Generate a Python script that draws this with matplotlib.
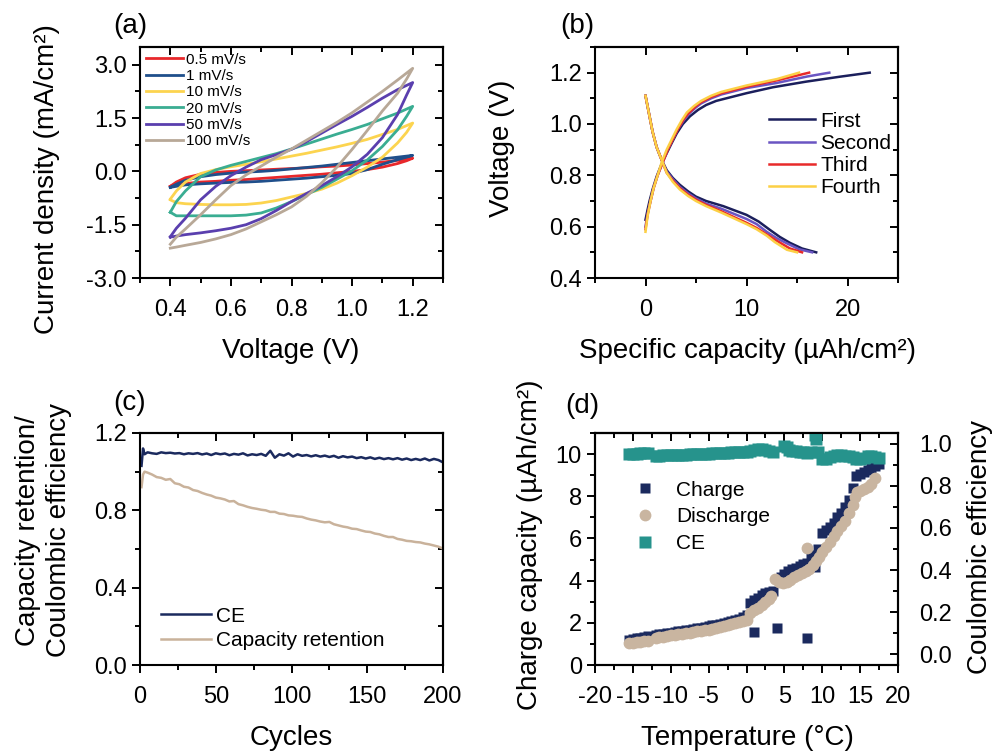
import matplotlib
matplotlib.use("Agg")
import matplotlib.pyplot as plt
from matplotlib.ticker import MultipleLocator, FormatStrFormatter

plt.rcParams["font.family"] = ["Liberation Sans", "DejaVu Sans"]
plt.rcParams["axes.unicode_minus"] = False
plt.rcParams["axes.linewidth"] = 1.5

# ---------------- (a) cyclic voltammetry loops ----------------
V_FWD = [0.40, 0.42, 0.45, 0.50, 0.55, 0.60, 0.65, 0.70, 0.75, 0.80, 0.85, 0.90,
         0.95, 1.00, 1.05, 1.10, 1.15, 1.20]
V_REV = [1.20, 1.18, 1.15, 1.10, 1.05, 1.00, 0.95, 0.90, 0.85, 0.80, 0.75, 0.70,
         0.65, 0.60, 0.55, 0.50, 0.45, 0.42, 0.40]

I_FWD_05 = [-0.42, -0.30, -0.18, -0.08, -0.03, 0.00, 0.02, 0.04, 0.06, 0.08, 0.10, 0.13,
            0.15, 0.18, 0.22, 0.26, 0.31, 0.37]
I_REV_05 = [0.37, 0.30, 0.22, 0.12, 0.05, 0.00, -0.04, -0.08, -0.11, -0.14, -0.17, -0.20,
            -0.23, -0.25, -0.28, -0.30, -0.34, -0.38, -0.42]
I_FWD_1 = [-0.45, -0.36, -0.25, -0.15, -0.09, -0.05, -0.02, 0.00, 0.03, 0.07, 0.11, 0.15,
           0.20, 0.25, 0.30, 0.35, 0.40, 0.45]
I_REV_1 = [0.45, 0.40, 0.33, 0.20, 0.05, -0.06, -0.11, -0.15, -0.19, -0.22, -0.25, -0.28,
           -0.30, -0.31, -0.33, -0.35, -0.38, -0.42, -0.45]
I_FWD_10 = [-0.78, -0.55, -0.30, -0.06, 0.05, 0.13, 0.20, 0.27, 0.35, 0.43, 0.51, 0.60,
            0.69, 0.79, 0.90, 1.04, 1.18, 1.36]
I_REV_10 = [1.36, 1.10, 0.80, 0.40, 0.12, -0.12, -0.33, -0.50, -0.62, -0.72, -0.82, -0.89,
            -0.93, -0.94, -0.94, -0.93, -0.91, -0.88, -0.80]
I_FWD_20 = [-1.15, -0.85, -0.55, -0.15, 0.04, 0.17, 0.28, 0.39, 0.50, 0.63, 0.77, 0.91,
            1.05, 1.18, 1.32, 1.48, 1.64, 1.83]
I_REV_20 = [1.83, 1.55, 1.17, 0.70, 0.32, 0.02, -0.22, -0.45, -0.65, -0.85, -1.03, -1.17,
            -1.23, -1.25, -1.25, -1.25, -1.25, -1.25, -1.15]
I_FWD_50 = [-1.84, -1.60, -1.32, -0.80, -0.42, -0.12, 0.12, 0.33, 0.47, 0.62, 0.84, 1.08,
            1.32, 1.55, 1.80, 2.06, 2.30, 2.50]
I_REV_50 = [2.50, 2.15, 1.60, 0.95, 0.48, 0.13, -0.15, -0.40, -0.62, -0.85, -1.10, -1.33,
            -1.50, -1.60, -1.67, -1.73, -1.78, -1.82, -1.85]
I_FWD_100 = [-2.05, -1.85, -1.62, -1.22, -0.80, -0.40, -0.10, 0.15, 0.40, 0.63, 0.88, 1.13,
             1.38, 1.65, 1.95, 2.25, 2.57, 2.90]
I_REV_100 = [2.90, 2.60, 2.20, 1.70, 1.15, 0.62, 0.12, -0.32, -0.70, -1.00, -1.22, -1.42,
             -1.62, -1.78, -1.90, -2.00, -2.08, -2.13, -2.16]

CV_LABELS = ["0.5 mV/s", "1 mV/s", "10 mV/s", "20 mV/s", "50 mV/s", "100 mV/s"]
CV_COLORS = ["#e8282b", "#1f4f8b", "#fcd44f", "#3aad92", "#5a3fae", "#b8a897"]

# ---------------- (b) charge / discharge curves ----------------
CH1_Q = [0, 0.2, 0.4, 0.7, 1.1, 1.6, 2.1, 2.6, 3.1, 3.7, 4.4, 5.2, 6.0, 7.0, 8.0, 10.0, 12.6, 15.9, 19.2, 22.2]
CH1_V = [0.627, 0.665, 0.70, 0.745, 0.795, 0.845, 0.886, 0.926, 0.964, 1.0, 1.03, 1.055, 1.074, 1.09, 1.10, 1.12, 1.143, 1.165, 1.184, 1.2]
CH2_Q = [0, 0.2, 0.5, 0.8, 1.2, 1.7, 2.2, 2.7, 3.2, 3.8, 4.3, 5.0, 5.5, 6.5, 7.5, 10.0, 13.0, 16.0, 18.2]
CH2_V = [0.60, 0.65, 0.70, 0.75, 0.80, 0.85, 0.90, 0.94, 0.98, 1.015, 1.04, 1.065, 1.08, 1.10, 1.115, 1.14, 1.16, 1.185, 1.2]
CH3_Q = [0, 0.2, 0.5, 0.8, 1.2, 1.7, 2.2, 2.7, 3.2, 3.8, 4.2, 5.0, 5.5, 6.5, 7.5, 10.0, 13.0, 16.2]
CH3_V = [0.59, 0.645, 0.70, 0.75, 0.80, 0.85, 0.90, 0.94, 0.98, 1.02, 1.04, 1.07, 1.085, 1.105, 1.12, 1.145, 1.17, 1.2]
CH4_Q = [0, 0.2, 0.5, 0.8, 1.2, 1.6, 2.1, 2.6, 3.1, 3.6, 4.1, 4.8, 5.5, 6.5, 7.5, 10.0, 13.0, 15.2]
CH4_V = [0.58, 0.64, 0.70, 0.75, 0.80, 0.85, 0.90, 0.94, 0.98, 1.015, 1.045, 1.07, 1.09, 1.11, 1.125, 1.15, 1.175, 1.2]

DC1_Q = [0, 0.2, 0.4, 0.7, 1.1, 1.6, 2.1, 2.7, 3.4, 4.2, 5.0, 6.0, 7.7, 10.0, 11.2, 12.3, 13.3, 14.3, 15.5, 16.9]
DC1_V = [1.11, 1.07, 1.03, 0.97, 0.91, 0.86, 0.82, 0.79, 0.763, 0.738, 0.717, 0.70, 0.68, 0.646, 0.62, 0.588, 0.56, 0.537, 0.515, 0.5]
DC2_Q = [0, 0.2, 0.4, 0.7, 1.1, 1.6, 2.1, 2.7, 3.4, 4.2, 5.0, 6.0, 7.5, 10.0, 11.0, 12.0, 13.0, 14.0, 15.2, 16.5]
DC2_V = [1.11, 1.07, 1.03, 0.97, 0.91, 0.86, 0.815, 0.785, 0.755, 0.73, 0.71, 0.69, 0.67, 0.63, 0.61, 0.58, 0.555, 0.535, 0.512, 0.5]
DC3_Q = [0, 0.2, 0.4, 0.7, 1.1, 1.6, 2.1, 2.7, 3.4, 4.2, 5.0, 6.0, 7.5, 10.0, 11.0, 12.0, 13.0, 14.3, 15.5]
DC3_V = [1.11, 1.07, 1.03, 0.97, 0.91, 0.86, 0.81, 0.78, 0.75, 0.725, 0.705, 0.685, 0.66, 0.615, 0.595, 0.57, 0.545, 0.515, 0.5]
DC4_Q = [0, 0.2, 0.4, 0.7, 1.1, 1.6, 2.1, 2.7, 3.4, 4.2, 5.0, 6.0, 7.5, 10.0, 11.0, 12.0, 12.8, 14.0, 15.0]
DC4_V = [1.11, 1.07, 1.03, 0.97, 0.91, 0.86, 0.81, 0.775, 0.745, 0.72, 0.70, 0.68, 0.655, 0.61, 0.59, 0.565, 0.54, 0.51, 0.5]

GCD_LABELS = ["First", "Second", "Third", "Fourth"]
GCD_COLORS = ["#1b1f5c", "#6a55c2", "#e82a2a", "#fcd045"]

# ---------------- (c) cycling ----------------
CYCLES = [1, 2, 3, 5, 8, 11, 14, 17, 20, 23, 26, 29, 32, 35, 38, 41, 44, 47, 50,
          53, 56, 59, 62, 65, 68, 71, 74, 77, 80, 83, 86, 89, 92, 95, 98, 101,
          104, 107, 110, 113, 116, 119, 122, 125, 128, 131, 134, 137, 140, 143,
          146, 149, 152, 155, 158, 161, 164, 167, 170, 173, 176, 179, 182, 185,
          188, 191, 194, 197, 200]
CE_CYC = [1.03, 1.12, 1.09, 1.10, 1.095, 1.092, 1.10, 1.096, 1.098, 1.094, 1.096, 1.09,
          1.095, 1.092, 1.096, 1.089, 1.094, 1.086, 1.095, 1.09, 1.094, 1.085, 1.092,
          1.088, 1.095, 1.084, 1.09, 1.086, 1.092, 1.082, 1.108, 1.072, 1.09, 1.083,
          1.095, 1.078, 1.09, 1.082, 1.086, 1.079, 1.085, 1.078, 1.083, 1.076, 1.082,
          1.072, 1.08, 1.074, 1.078, 1.07, 1.075, 1.068, 1.074, 1.066, 1.072, 1.065,
          1.07, 1.064, 1.07, 1.062, 1.068, 1.06, 1.066, 1.06, 1.068, 1.058, 1.066,
          1.06, 1.048]
RETENTION = [0.92, 0.985, 1.0, 0.995, 0.985, 0.972, 0.968, 0.958, 0.962, 0.94, 0.935,
             0.922, 0.918, 0.905, 0.90, 0.89, 0.882, 0.876, 0.866, 0.862, 0.856, 0.846,
             0.848, 0.832, 0.826, 0.818, 0.812, 0.808, 0.803, 0.80, 0.792, 0.792, 0.783,
             0.781, 0.774, 0.772, 0.768, 0.766, 0.758, 0.752, 0.748, 0.742, 0.738, 0.74,
             0.728, 0.722, 0.716, 0.712, 0.705, 0.703, 0.696, 0.69, 0.688, 0.68, 0.676,
             0.668, 0.662, 0.662, 0.652, 0.648, 0.642, 0.64, 0.636, 0.634, 0.628, 0.624,
             0.618, 0.612, 0.602]

# ---------------- (d) temperature dependence ----------------
CHG_T = [-15.5, -15, -14.5, -14, -13.5, -13, -12, -11.5, -11, -10.5,
         -10, -9.5, -9, -8.5, -8, -7.5, -7, -6.5, -6, -5.5,
         -5, -4.5, -4, -3.5, -3, -2.5, -2, -1.5, -1, -0.5,
         0, 0.5, 1.0, 1.5, 2.0, 2.5, 3.0, 3.5, 4.5, 5.0,
         5.5, 6.0, 6.5, 7.0, 7.5, 8.0, 8.5, 9.0, 9.5, 10.0,
         10.5, 11.0, 11.5, 12.0, 12.5, 13.0, 13.5, 14.0, 14.5, 15.0,
         15.5, 16.0, 16.5, 17.0, 17.5, 1.0, 4.0, 8.0]
CHG_Q = [1.18, 1.22, 1.26, 1.30, 1.33, 1.36, 1.42, 1.45, 1.48, 1.51,
         1.54, 1.56, 1.59, 1.62, 1.65, 1.67, 1.70, 1.74, 1.77, 1.80,
         1.84, 1.88, 1.92, 1.96, 2.00, 2.05, 2.09, 2.14, 2.20, 2.27,
         2.35, 2.95, 3.10, 3.20, 3.30, 3.40, 3.45, 3.50, 4.15, 4.30,
         4.45, 4.55, 4.62, 4.70, 4.78, 4.85, 5.20, 4.65, 5.50, 6.25,
         6.40, 6.55, 6.75, 7.00, 7.20, 7.50, 7.80, 8.40, 8.95, 9.05,
         9.15, 9.25, 9.35, 9.45, 9.55, 1.55, 1.75, 1.30]
DIS_T = [-15.5, -15, -14.5, -14, -13.5, -13, -12, -11.5, -11, -10.5,
         -10, -9.5, -9, -8.5, -8, -7.5, -7, -6.5, -6, -5.5,
         -5, -4.5, -4, -3.5, -3, -2.5, -2, -1.5, -1, -0.5,
         0, 0.5, 1.0, 1.5, 2.0, 2.5, 3.0, 3.3, 3.8, 4.3,
         4.8, 5.3, 5.8, 6.3, 6.8, 7.3, 7.8, 8.3, 8.8, 9.2,
         9.6, 10.0, 10.5, 11.0, 11.5, 12.0, 12.5, 13.0, 13.5, 14.0,
         14.3, 14.6, 15.0, 15.5, 16.0, 16.5, 17.0, 8.0]
DIS_Q = [1.02, 1.05, 1.08, 1.10, 1.13, 1.16, 1.28, 1.31, 1.34, 1.37,
         1.40, 1.42, 1.45, 1.48, 1.50, 1.53, 1.56, 1.59, 1.62, 1.65,
         1.68, 1.72, 1.76, 1.80, 1.84, 1.88, 1.93, 1.98, 2.03, 2.08,
         2.13, 2.45, 2.60, 2.72, 2.85, 3.00, 3.15, 3.25, 4.10, 3.95,
         3.90, 3.95, 4.05, 4.15, 4.25, 4.35, 4.45, 4.55, 4.75, 4.95,
         5.10, 5.35, 5.60, 5.85, 6.10, 6.35, 6.60, 6.85, 7.20, 7.60,
         7.95, 8.20, 8.25, 8.35, 8.45, 8.60, 8.85, 5.55]
CE_T = [-15.5, -15, -14.5, -14, -13.5, -13, -12, -11.5, -11, -10.5,
        -10, -9.5, -9, -8.5, -8, -7.5, -7, -6.5, -6, -5.5,
        -5, -4.5, -4, -3.5, -3, -2.5, -2, -1.5, -1, -0.5,
        0, 0.5, 1.0, 1.5, 2.0, 2.5, 3.0, 3.5, 5.0, 5.3,
        5.6, 6.0, 6.5, 7.0, 7.5, 8.0, 8.5, 9.0, 9.2, 9.5,
        10.0, 10.5, 11.0, 11.5, 12.0, 12.5, 13.0, 13.5, 14.0, 14.5,
        15.0, 15.5, 16.0, 16.5, 17.0, 17.5]
CE_VAL = [0.95, 0.95, 0.95, 0.955, 0.955, 0.955, 0.94, 0.94, 0.945, 0.945,
          0.945, 0.945, 0.945, 0.948, 0.948, 0.95, 0.95, 0.95, 0.952, 0.952,
          0.952, 0.955, 0.955, 0.955, 0.957, 0.957, 0.96, 0.96, 0.962, 0.962,
          0.962, 0.965, 0.97, 0.975, 0.975, 0.97, 0.965, 0.96, 0.99, 0.985,
          0.97, 0.965, 0.965, 0.96, 0.96, 0.955, 0.96, 1.04, 1.02, 0.96,
          0.925, 0.925, 0.935, 0.94, 0.945, 0.945, 0.94, 0.94, 0.935, 0.925,
          0.925, 0.93, 0.94, 0.94, 0.935, 0.93]

TICK_FS = 17
LABEL_FS = 20
LEG_FS = 15


def frame(ax, xmaj, xmin, ymaj, ymin, xfmt, yfmt, mirror_y=True):
    """Origin-like box: outward ticks bottom/left, inward mirror ticks top/right."""
    ax.xaxis.set_major_locator(MultipleLocator(xmaj))
    ax.xaxis.set_minor_locator(MultipleLocator(xmin))
    ax.yaxis.set_major_locator(MultipleLocator(ymaj))
    ax.yaxis.set_minor_locator(MultipleLocator(ymin))
    ax.xaxis.set_major_formatter(FormatStrFormatter(xfmt))
    ax.yaxis.set_major_formatter(FormatStrFormatter(yfmt))
    ax.tick_params(which="both", direction="out", width=1.4, labelsize=TICK_FS)
    ax.tick_params(which="major", length=6)
    ax.tick_params(which="minor", length=3.5)
    ax.tick_params(axis="x", which="major", pad=9)

    top = ax.secondary_xaxis("top")
    top.xaxis.set_major_locator(MultipleLocator(xmaj))
    top.xaxis.set_minor_locator(MultipleLocator(xmin))
    top.tick_params(which="both", direction="in", width=1.4, labeltop=False)
    top.tick_params(which="major", length=6)
    top.tick_params(which="minor", length=3.5)
    top.spines["top"].set_linewidth(1.5)
    if mirror_y:
        right = ax.secondary_yaxis("right")
        right.yaxis.set_major_locator(MultipleLocator(ymaj))
        right.yaxis.set_minor_locator(MultipleLocator(ymin))
        right.tick_params(which="both", direction="in", width=1.4, labelright=False)
        right.tick_params(which="major", length=6)
        right.tick_params(which="minor", length=3.5)
        right.spines["right"].set_linewidth(1.5)


fig = plt.figure(figsize=(9.94, 7.52), dpi=100)
W, H = 994.0, 752.0


def rect(left, top, right, bottom):
    return [left / W, 1 - bottom / H, (right - left) / W, (bottom - top) / H]


# ---- (a)
ax_a = fig.add_axes(rect(140, 47, 443, 278))
cv_series = [(I_FWD_05, I_REV_05), (I_FWD_1, I_REV_1), (I_FWD_10, I_REV_10),
             (I_FWD_20, I_REV_20), (I_FWD_50, I_REV_50), (I_FWD_100, I_REV_100)]
for (i_f, i_r), lab, col in zip(cv_series, CV_LABELS, CV_COLORS):
    ax_a.plot(V_FWD + V_REV, i_f + i_r, color=col, lw=2.0, label=lab,
              solid_joinstyle="round")
ax_a.set_xlim(0.3, 1.3)
ax_a.set_ylim(-3.0, 3.5)
frame(ax_a, 0.2, 0.1, 1.5, 0.75, "%.1f", "%.1f")
ax_a.set_xlabel("Voltage (V)", fontsize=LABEL_FS)
ax_a.set_ylabel("Current density (mA/cm²)", fontsize=LABEL_FS)
ax_a.xaxis.set_label_coords(0.498, -0.26)
ax_a.yaxis.set_label_coords(-0.265, 0.43)
ax_a.legend(loc="upper left", bbox_to_anchor=(0.02, 0.975), frameon=False,
            fontsize=11, handlelength=2.4, handletextpad=0.2, labelspacing=0.15,
            borderpad=0, borderaxespad=0)

# ---- (b)
ax_b = fig.add_axes(rect(595, 47, 898, 278))
gcd = [(CH1_Q, CH1_V, DC1_Q, DC1_V), (CH2_Q, CH2_V, DC2_Q, DC2_V),
       (CH3_Q, CH3_V, DC3_Q, DC3_V), (CH4_Q, CH4_V, DC4_Q, DC4_V)]
for (cq, cv, dq, dv), lab, col in zip(gcd, GCD_LABELS, GCD_COLORS):
    ax_b.plot(cq, cv, color=col, lw=1.8, label=lab)
    ax_b.plot(dq, dv, color=col, lw=1.8)
ax_b.set_xlim(-5, 25)
ax_b.set_ylim(0.4, 1.3)
frame(ax_b, 10, 5, 0.2, 0.1, "%d", "%.1f")
ax_b.set_xlabel("Specific capacity (µAh/cm²)", fontsize=LABEL_FS)
ax_b.set_ylabel("Voltage (V)", fontsize=LABEL_FS)
ax_b.xaxis.set_label_coords(0.502, -0.26)
ax_b.yaxis.set_label_coords(-0.265, 0.56)
ax_b.legend(loc="upper left", bbox_to_anchor=(0.575, 0.72), frameon=False,
            fontsize=LEG_FS, handlelength=2.2, handletextpad=0.25, labelspacing=0.15,
            borderpad=0, borderaxespad=0)

# ---- (c)
ax_c = fig.add_axes(rect(140, 433, 443, 665))
ax_c.plot(CYCLES, CE_CYC, color="#1b2a5e", lw=1.8, label="CE")
ax_c.plot(CYCLES, RETENTION, color="#c9b29b", lw=1.8, label="Capacity retention")
ax_c.set_xlim(0, 200)
ax_c.set_ylim(0, 1.2)
frame(ax_c, 50, 25, 0.4, 0.2, "%d", "%.1f")
ax_c.set_xlabel("Cycles", fontsize=LABEL_FS)
ax_c.set_ylabel("Capacity retention/\nCoulombic efficiency", fontsize=LABEL_FS,
                linespacing=1.25)
ax_c.xaxis.set_label_coords(0.498, -0.26)
ax_c.yaxis.set_label_coords(-0.225, 0.58)
ax_c.legend(loc="lower left", bbox_to_anchor=(0.07, 0.065), frameon=False,
            fontsize=LEG_FS, handlelength=2.4, handletextpad=0.25, labelspacing=0.25,
            borderpad=0, borderaxespad=0)

# ---- (d)
ax_d = fig.add_axes(rect(595, 433, 898, 665))
h_chg, = ax_d.plot(CHG_T, CHG_Q, "s", color="#1b2a5e", ms=7.5, mec="none",
                   label="Charge")
h_dis, = ax_d.plot(DIS_T, DIS_Q, "o", color="#c9b5a0", ms=8.5, mec="none",
                   label="Discharge")
ax_d.set_xlim(-20, 20)
ax_d.set_ylim(0, 11)
frame(ax_d, 5, 2.5, 2, 1, "%d", "%d", mirror_y=False)
ax_d2 = ax_d.twinx()
h_ce, = ax_d2.plot(CE_T, CE_VAL, "s", color="#26938c", ms=8, mec="none", label="CE")
ax_d2.set_ylim(-0.05, 1.05)
ax_d2.yaxis.set_major_locator(MultipleLocator(0.2))
ax_d2.yaxis.set_minor_locator(MultipleLocator(0.1))
ax_d2.yaxis.set_major_formatter(FormatStrFormatter("%.1f"))
ax_d2.tick_params(which="both", direction="in", width=1.4, labelsize=TICK_FS, pad=15)
ax_d2.tick_params(which="major", length=6)
ax_d2.tick_params(which="minor", length=3.5)
ax_d.set_xlabel("Temperature (°C)", fontsize=LABEL_FS)
ax_d.set_ylabel("Charge capacity (µAh/cm²)", fontsize=LABEL_FS)
ax_d2.set_ylabel("Coulombic efficiency", fontsize=LABEL_FS)
ax_d.xaxis.set_label_coords(0.503, -0.26)
ax_d.yaxis.set_label_coords(-0.17, 0.52)
ax_d2.yaxis.set_label_coords(1.228, 0.51)
ax_d.legend(handles=[h_chg, h_dis, h_ce], loc="upper left",
            bbox_to_anchor=(0.13, 0.795), frameon=False, fontsize=LEG_FS,
            handlelength=1.0, handletextpad=1.0, labelspacing=0.38,
            borderpad=0, borderaxespad=0)

# panel tags
for tag, x, y in [("(a)", 130, 26), ("(b)", 577, 26), ("(c)", 130, 403), ("(d)", 582, 406)]:
    fig.text(x / W, 1 - y / H, tag, fontsize=20, ha="center", va="center")

fig.savefig("out.png", dpi=100)
